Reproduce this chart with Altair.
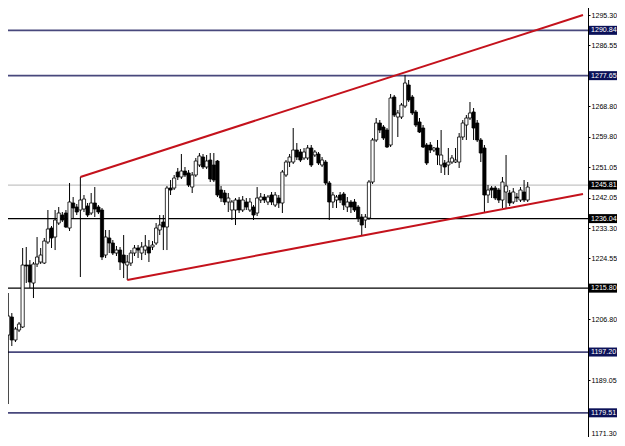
import altair as alt
import pandas as pd

# ---- candle data (bar index, open, high, low, close) ----
opens = [
    1200.70, 1202.15, 1207.39, 1200.70, 1203.61, 1204.48, 1222.53, 1222.53, 1217.29, 1222.82,
    1223.40, 1223.11, 1229.22, 1233.30, 1230.68, 1234.75, 1237.08, 1237.67, 1233.30, 1240.58,
    1239.41, 1238.54, 1238.83, 1239.70, 1237.67, 1240.58, 1239.41, 1238.54, 1225.44, 1230.39,
    1228.93, 1226.02, 1226.89, 1225.44, 1222.53, 1223.11, 1226.02, 1227.48, 1226.02, 1226.89,
    1227.77, 1227.77, 1228.93, 1232.72, 1235.05, 1233.59, 1244.94, 1244.94, 1249.60, 1248.15,
    1249.89, 1249.31, 1245.23, 1248.73, 1251.64, 1253.97, 1251.06, 1253.09, 1251.64, 1252.80,
    1244.36, 1243.49, 1240.87, 1238.54, 1238.54, 1241.45, 1238.54, 1240.87, 1238.54, 1239.41,
    1237.67, 1241.45, 1242.32, 1240.87, 1242.91, 1239.99, 1242.03, 1240.58, 1248.73, 1252.51,
    1252.51, 1256.00, 1255.42, 1253.68, 1253.68, 1256.59, 1254.55, 1254.84, 1251.64, 1252.51,
    1246.40, 1240.87, 1241.45, 1242.91, 1243.20, 1239.41, 1240.87, 1240.87, 1239.41, 1236.50,
    1235.63, 1236.21, 1246.69, 1258.92, 1263.86, 1262.70, 1261.83, 1257.46, 1271.43, 1265.61,
    1265.61, 1268.81, 1274.93, 1271.43, 1267.07, 1264.16, 1262.41, 1257.46, 1257.46, 1256.00,
    1256.59, 1251.64, 1252.22, 1251.64, 1252.51, 1252.51, 1252.51, 1259.79, 1263.28, 1265.32,
    1267.07, 1263.86, 1258.92, 1256.59, 1242.91, 1244.94, 1244.94, 1244.36, 1241.45, 1243.78,
    1243.49, 1240.87, 1242.32, 1241.45, 1243.78, 1241.45,
]
highs = [
    1202.15, 1214.38, 1208.55, 1204.48, 1205.94, 1227.48, 1227.77, 1223.98, 1223.40, 1230.68,
    1227.48, 1230.39, 1238.54, 1233.88, 1238.54, 1239.41, 1237.96, 1238.54, 1246.40, 1242.32,
    1240.29, 1248.15, 1242.91, 1240.58, 1243.49, 1245.23, 1239.99, 1239.12, 1232.72, 1232.72,
    1229.81, 1228.06, 1227.77, 1231.26, 1225.44, 1226.89, 1228.35, 1228.35, 1229.22, 1231.26,
    1229.81, 1229.51, 1234.75, 1237.08, 1237.08, 1245.53, 1247.27, 1248.73, 1250.77, 1254.84,
    1251.06, 1250.18, 1249.60, 1253.68, 1255.13, 1254.84, 1254.55, 1255.13, 1255.13, 1253.09,
    1245.53, 1244.36, 1243.49, 1241.45, 1242.03, 1242.32, 1242.61, 1242.03, 1242.03, 1239.99,
    1245.23, 1243.49, 1243.20, 1242.91, 1243.78, 1243.78, 1242.91, 1250.18, 1253.09, 1254.84,
    1262.41, 1258.04, 1256.30, 1256.59, 1257.46, 1257.46, 1256.00, 1255.42, 1253.97, 1253.09,
    1246.98, 1243.78, 1242.91, 1243.78, 1243.78, 1242.32, 1241.45, 1241.74, 1239.99, 1237.37,
    1237.37, 1247.27, 1259.50, 1265.32, 1264.74, 1263.28, 1262.41, 1272.31, 1272.02, 1267.65,
    1269.69, 1277.84, 1276.38, 1272.02, 1267.65, 1265.32, 1263.28, 1258.04, 1258.33, 1256.88,
    1258.92, 1261.83, 1253.09, 1256.59, 1254.55, 1256.59, 1260.95, 1264.74, 1266.19, 1269.98,
    1268.23, 1264.74, 1259.50, 1257.46, 1245.82, 1245.53, 1245.53, 1244.94, 1248.15, 1254.55,
    1244.36, 1244.94, 1243.49, 1245.23, 1247.27, 1246.69,
]
lows = [
    1198.95, 1182.07, 1198.95, 1200.11, 1203.02, 1204.19, 1217.29, 1215.83, 1212.92, 1221.95,
    1222.82, 1222.82, 1228.64, 1227.48, 1226.89, 1234.17, 1235.05, 1233.30, 1232.43, 1236.21,
    1237.08, 1219.04, 1237.96, 1236.50, 1237.08, 1236.50, 1237.37, 1223.98, 1224.57, 1226.02,
    1225.44, 1225.15, 1221.07, 1218.74, 1218.16, 1222.24, 1225.15, 1224.57, 1223.98, 1225.44,
    1223.40, 1226.89, 1228.35, 1231.26, 1226.89, 1226.89, 1242.91, 1244.36, 1247.27, 1247.56,
    1248.15, 1245.23, 1243.49, 1248.15, 1251.06, 1250.47, 1250.47, 1246.69, 1246.69, 1242.32,
    1240.87, 1239.99, 1237.96, 1235.63, 1234.17, 1237.67, 1237.96, 1238.54, 1237.96, 1235.63,
    1236.79, 1240.58, 1240.58, 1239.99, 1239.99, 1239.41, 1239.12, 1237.67, 1248.15, 1251.06,
    1251.93, 1253.09, 1252.51, 1253.09, 1253.09, 1251.06, 1253.97, 1251.64, 1251.06, 1245.82,
    1235.63, 1239.12, 1239.12, 1240.58, 1238.54, 1237.96, 1237.67, 1237.96, 1235.05, 1231.26,
    1233.30, 1235.63, 1246.11, 1258.33, 1260.95, 1258.92, 1256.59, 1256.88, 1265.61, 1259.79,
    1265.03, 1268.23, 1269.98, 1266.19, 1262.70, 1260.95, 1256.59, 1251.64, 1255.13, 1255.42,
    1251.64, 1249.31, 1248.73, 1248.73, 1251.93, 1252.22, 1250.77, 1258.92, 1258.92, 1264.74,
    1258.92, 1258.33, 1252.51, 1237.96, 1240.58, 1242.03, 1241.45, 1240.58, 1239.12, 1239.12,
    1239.70, 1240.29, 1240.87, 1240.87, 1240.87, 1240.87,
]
closes = [
    1200.11, 1207.68, 1200.70, 1203.90, 1205.35, 1222.53, 1222.24, 1217.58, 1222.82, 1224.86,
    1225.44, 1229.51, 1233.01, 1230.39, 1235.63, 1237.67, 1235.63, 1233.59, 1240.87, 1239.12,
    1237.96, 1241.45, 1241.74, 1237.08, 1240.58, 1238.83, 1237.96, 1224.86, 1230.68, 1228.93,
    1226.02, 1226.89, 1223.40, 1223.11, 1223.40, 1226.02, 1227.48, 1226.89, 1227.77, 1228.06,
    1226.02, 1228.35, 1233.30, 1234.17, 1233.59, 1244.94, 1244.36, 1247.85, 1248.15, 1249.89,
    1248.73, 1245.82, 1248.73, 1252.80, 1254.26, 1251.06, 1252.80, 1247.56, 1247.27, 1242.91,
    1242.03, 1240.87, 1242.03, 1240.87, 1241.45, 1238.54, 1241.45, 1239.41, 1240.87, 1237.08,
    1242.03, 1242.32, 1241.45, 1242.32, 1240.87, 1242.91, 1240.58, 1249.60, 1252.51, 1253.97,
    1256.00, 1253.97, 1253.09, 1255.42, 1256.59, 1251.64, 1255.42, 1252.22, 1253.09, 1246.40,
    1240.87, 1242.91, 1242.32, 1241.45, 1239.99, 1240.87, 1239.41, 1238.54, 1236.21, 1234.17,
    1236.50, 1246.69, 1258.92, 1263.86, 1261.83, 1259.50, 1256.88, 1271.14, 1266.19, 1266.78,
    1269.10, 1275.51, 1270.56, 1266.78, 1263.28, 1261.24, 1256.88, 1252.22, 1256.00, 1256.59,
    1254.55, 1254.55, 1251.06, 1252.51, 1253.68, 1253.09, 1259.79, 1263.86, 1265.32, 1266.78,
    1262.41, 1258.92, 1255.13, 1242.91, 1244.36, 1244.36, 1242.03, 1241.45, 1246.69, 1245.53,
    1240.58, 1243.78, 1242.03, 1244.36, 1241.45, 1245.23,
]
bar_index = list(range(len(opens)))

# ---- horizontal levels ----
level_prices = [1290.84, 1277.65, 1245.81, 1236.04, 1215.80, 1197.20, 1179.51]
level_labels = ["1290.84", "1277.65", "1245.81", "1236.04", "1215.80", "1197.20", "1179.51"]
level_kinds = ["navy", "navy", "price", "black", "black", "navy", "navy"]

# ---- price-axis tick labels ----
axis_ticks = [1295.30, 1286.55, 1268.80, 1259.80, 1251.05, 1242.05,
              1233.30, 1224.55, 1206.80, 1189.05, 1171.30]

# ---- trend lines (bar index, price) ----
upper_idx = [21, 160.33]
upper_price = [1248.15, 1295.30]
lower_idx = [34, 160.33]
lower_price = [1218.16, 1243.20]

candles = pd.DataFrame({"i": bar_index, "open": opens, "high": highs,
                        "low": lows, "close": closes})
candles["dir"] = ["up" if c >= o else "down" for o, c in zip(opens, closes)]
levels = pd.DataFrame({"price": level_prices, "label": level_labels, "kind": level_kinds})
trend = pd.DataFrame({
    "i": upper_idx + lower_idx,
    "price": upper_price + lower_price,
    "line": ["upper"] * 2 + ["lower"] * 2,
})

LABEL_FONT = "Liberation Sans"
LABEL_SIZE = 7.1

xscale = alt.Scale(domain=[0.109, 160.33], nice=False, zero=False)
yscale = alt.Scale(domain=[1169.85, 1299.67], nice=False, zero=False)
yaxis = alt.Axis(orient="right", values=axis_ticks, format=".2f", title=None,
                 grid=False, labelOverlap=False, tickSize=2, labelPadding=1,
                 labelFont=LABEL_FONT, labelFontSize=LABEL_SIZE, labelColor="#000000",
                 labelOffset=alt.ConditionalAxisNumber(
                     condition={"test": "datum.value < 1175", "value": -8}, value=0),
                 domainColor="#000000", tickColor="#000000", domainWidth=1)


def Y(field):
    return alt.Y(field, type="quantitative", scale=yscale, axis=yaxis)


X = alt.X("i:Q", scale=xscale, axis=None)

level_rules = alt.Chart(levels).mark_rule().encode(
    y=Y("price"),
    color=alt.Color("kind:N", scale=alt.Scale(domain=["navy", "black", "price"],
                                              range=["#48487c", "#000000", "#c4c4c4"]),
                    legend=None),
    strokeWidth=alt.StrokeWidth("kind:N", scale=alt.Scale(domain=["navy", "black", "price"],
                                                          range=[1.7, 1.2, 1.0]),
                                legend=None),
)

wicks = alt.Chart(candles).mark_rule(color="#000000", strokeWidth=1).encode(
    x=X, y=Y("low"), y2="high")

bodies = alt.Chart(candles).mark_bar(size=3.2, stroke="#000000", strokeWidth=0.8).encode(
    x=X, y=Y("open"), y2="close",
    fill=alt.Fill("dir:N", scale=alt.Scale(domain=["up", "down"], range=["#ffffff", "#000000"]),
                  legend=None),
)

trend_lines = alt.Chart(trend).mark_line(color="#c4121c", strokeWidth=2, clip=True).encode(
    x=X, y=Y("price"), detail="line:N")

label_boxes = alt.Chart(levels).mark_tick(orient="horizontal", size=30, thickness=9,
                                          opacity=1).encode(
    y=Y("price"),
    x=alt.value(604),
    color=alt.Color("kind:N", scale=alt.Scale(domain=["navy", "black", "price"],
                                              range=["#0b1158", "#000000", "#000000"]),
                    legend=None),
)

label_text = alt.Chart(levels).mark_text(align="left", baseline="middle", color="#ffffff",
                                         font=LABEL_FONT, fontSize=LABEL_SIZE).encode(
    y=Y("price"), x=alt.value(591), text="label:N")

chart = alt.layer(level_rules, wicks, bodies, trend_lines, label_boxes, label_text).resolve_scale(
    color="independent"
).properties(
    width=588, height=446,
    autosize=alt.AutoSizeParams(type="none"),
    padding={"left": -8, "top": -8, "right": 29, "bottom": -9},
    background="#ffffff",
).configure_view(stroke=None)

chart.save("out.html", embed_options={"renderer": "svg", "actions": False})
